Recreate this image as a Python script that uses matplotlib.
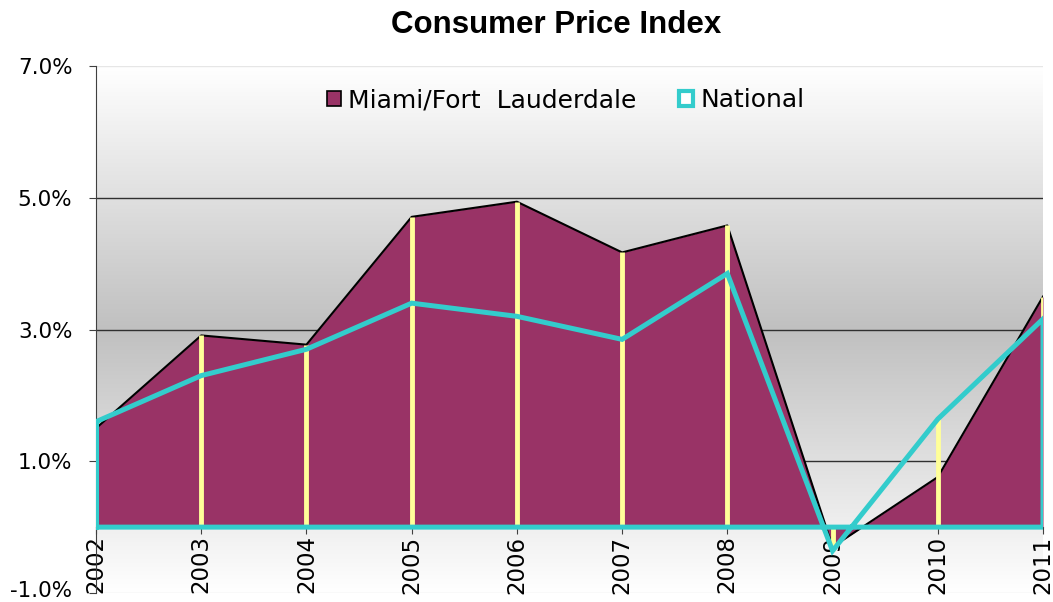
import numpy as np
import matplotlib
matplotlib.use("Agg")
import matplotlib.pyplot as plt
import matplotlib.transforms as mtransforms
from matplotlib.colors import LinearSegmentedColormap
from matplotlib.patches import Patch

years = ["2002", "2003", "2004", "2005", "2006", "2007", "2008", "2009", "2010", "2011"]
miami = [1.50, 2.91, 2.77, 4.71, 4.94, 4.17, 4.58, -0.30, 0.76, 3.50]
national = [1.60, 2.30, 2.70, 3.40, 3.20, 2.85, 3.85, -0.36, 1.64, 3.16]
yticks = [-1.0, 1.0, 3.0, 5.0, 7.0]

PURPLE = "#993366"
TEAL = "#33CCCC"
YELLOW = "#FFFF99"

fig = plt.figure(figsize=(10.53, 6.02), dpi=100)
ax = fig.add_axes([96/1053, 1-593/602, 947/1053, 527/602])

x = np.arange(len(years))
m = np.array(miami)
n = np.array(national)

# background gradient
cmap = LinearSegmentedColormap.from_list("bg", ["#ffffff", "#c0c0c0", "#ffffff"])
grad = np.linspace(0, 1, 256).reshape(-1, 1)
ax.imshow(grad, extent=[0, 1, 0, 1], transform=ax.transAxes, cmap=cmap,
          aspect="auto", zorder=0, interpolation="bicubic")

ax.set_xlim(0, len(years) - 1)
ax.set_ylim(-1, 7)

# gridlines
for yv in [1.0, 3.0, 5.0]:
    ax.axhline(yv, color="#303030", lw=1.0, zorder=1)
ax.axhline(7.0, color="#e6e6e6", lw=1.0, zorder=1)
ax.axhline(-1.0, color="#e6e6e6", lw=1.0, zorder=1)

# Miami area
ax.fill_between(x, m, 0, color=PURPLE, lw=0, zorder=2)
ax.plot(x, m, color="black", lw=1.5, zorder=3)

# drop lines
drop = np.where(np.abs(m) > np.abs(n), m, n)
ax.vlines(x, 0, drop, color=YELLOW, lw=3.5, zorder=4)

# National area outline
px = np.concatenate([[x[0]], x, [x[-1], x[0], x[0]]])
py = np.concatenate([[0], n, [0, 0, n[0]]])
ax.plot(px, py, color=TEAL, lw=3.6, zorder=5, solid_joinstyle="miter")

# axes styling
for s in ["top", "right"]:
    ax.spines[s].set_visible(False)
ax.spines["left"].set_color("#404040")
ax.spines["bottom"].set_position(("data", 0))
ax.spines["bottom"].set_color("#404040")
ax.spines["bottom"].set_zorder(1)

ax.set_yticks(yticks)
ax.set_yticklabels([f"{v:.1f}%" for v in yticks], fontsize=15.5)
ax.set_xticks(x)
ax.set_xticklabels(years, rotation=90, fontsize=16.5, va="top")
ax.tick_params(axis="both", direction="out", length=5, color="#404040")
ax.tick_params(axis="y", pad=12)
ax.tick_params(axis="x", pad=1)

# nudge the bottom y label up slightly so it stays inside the figure
lbl = ax.get_yticklabels()[0]
lbl.set_transform(lbl.get_transform() +
                  mtransforms.ScaledTranslation(0, 3/72, fig.dpi_scale_trans))

fig.text(556/1053, 1 - 25/602, "Consumer Price Index", ha="center", va="center",
         fontsize=22.5, fontweight="bold", family="Liberation Sans")

handles = [Patch(facecolor=PURPLE, edgecolor="black", lw=1.2),
           Patch(facecolor="white", edgecolor=TEAL, lw=3)]
leg = ax.legend(handles, ["Miami/Fort  Lauderdale", "National"], ncol=2,
                loc="center", bbox_to_anchor=(0.496, 0.935), frameon=False,
                fontsize=18, handlelength=0.55, handleheight=0.55,
                handletextpad=0.3, columnspacing=1.7)
leg.set_zorder(10)

fig.savefig("out.png", dpi=100)
